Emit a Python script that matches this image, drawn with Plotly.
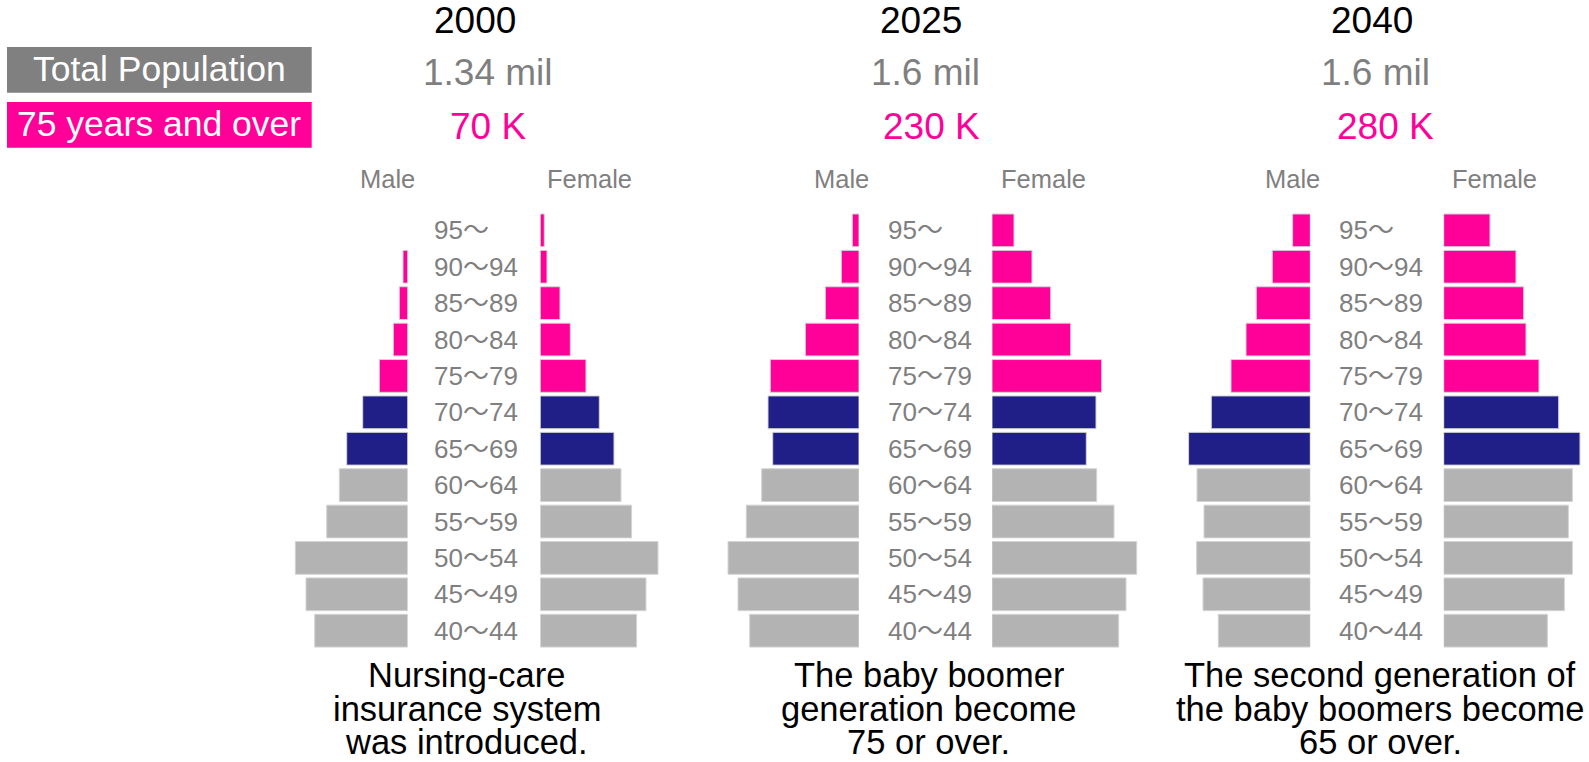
import plotly.graph_objects as go

W, H = 1589, 762

ages = ["95～", "90～94", "85～89", "80～84", "75～79", "70～74", "65～69",
        "60～64", "55～59", "50～54", "45～49", "40～44"]
age_colors = ["#ff0099"] * 5 + ["#1f1f87"] * 2 + ["#b3b3b3"] * 5

years = ["2000", "2025", "2040"]
total_pop = ["1.34 mil", "1.6 mil", "1.6 mil"]
over75 = ["70 K", "230 K", "280 K"]
notes = [
    ["Nursing-care", "insurance system", "was introduced."],
    ["The baby boomer", "generation become", "75 or over."],
    ["The second generation of", "the baby boomers become", "65 or over."],
]

male_2000 = [0, 4.7, 8.4, 14.4, 28.4, 45, 61, 68.4, 81, 112.4, 101.7, 93]
female_2000 = [4, 6.7, 19.7, 30, 45.7, 59, 73.7, 80.7, 91.3, 117.7, 105.7, 96.3]
male_2025 = [6.7, 17.7, 33.7, 53.7, 88.7, 91, 86.3, 97.3, 112.7, 131, 121, 109.3]
female_2025 = [22, 40, 58.7, 78.7, 109.7, 104, 94.3, 104.7, 122, 144.7, 134, 126.7]
male_2040 = [17.7, 38, 54, 64.3, 79.3, 99, 121.7, 113.3, 106.3, 113.7, 107.3, 92]
female_2040 = [46.3, 72.3, 80, 82.3, 95.3, 115, 136.3, 128.7, 124.7, 128.7, 120.7, 103.7]

males = [male_2000, male_2025, male_2040]
females = [female_2000, female_2025, female_2040]

# layout geometry (pixels)
male_right = [407.7, 859.0, 1310.3]
female_left = [540.3, 992.0, 1443.7]
age_label_x = [432, 886, 1337]
year_x = [475, 921.3, 1372]
val_x = [488.3, 925, 1375.7]
k_x = [488.3, 931.7, 1385]
male_lbl_x = [387, 841.8, 1292]
female_lbl_x = [589, 1043.7, 1494]
note_x = [467, 929, 1380]
note_cap_y = [673.8, 707.3, 740.8]
plot_top, plot_bot = 212.15, 648.9

def px(x):
    return x / W

def py(y):
    return 1 - y / H

fig = go.Figure()
layout = dict(
    width=W, height=H, margin=dict(l=0, r=0, t=0, b=0),
    paper_bgcolor="white", plot_bgcolor="white", showlegend=False,
    font=dict(family="Liberation Sans, Arial, Noto Sans CJK JP"),
    bargap=0.1,
)
layout["yaxis"] = dict(domain=[py(plot_bot), py(plot_top)], type="category",
                       categoryorder="array", categoryarray=ages[::-1],
                       range=[-0.5, 11.5], visible=False, fixedrange=True)

def bar_line(vals):
    return dict(color="#d4d4d4", width=[1 if v > 0 else 0 for v in vals])

ax = 1
for i in range(3):
    R = 150
    name = "xaxis" if ax == 1 else f"xaxis{ax}"
    layout[name] = dict(domain=[px(male_right[i] - R), px(male_right[i])],
                        range=[R, 0], visible=False, fixedrange=True, anchor="y")
    fig.add_trace(go.Bar(x=males[i], y=ages, orientation="h",
                         marker=dict(color=age_colors, line=bar_line(males[i])),
                         xaxis="x" if ax == 1 else f"x{ax}", yaxis="y",
                         hoverinfo="x+y"))
    ax += 1
    Rf = min(150, W - female_left[i])
    layout[f"xaxis{ax}"] = dict(domain=[px(female_left[i]), min(1, px(female_left[i] + Rf))],
                                range=[0, Rf], visible=False, fixedrange=True, anchor="y")
    fig.add_trace(go.Bar(x=females[i], y=ages, orientation="h",
                         marker=dict(color=age_colors, line=bar_line(females[i])),
                         xaxis=f"x{ax}", yaxis="y", hoverinfo="x+y"))
    ax += 1

fig.update_layout(**layout)

ann = []
def text(x, y, s, size, color, xanchor="center"):
    ann.append(dict(x=px(x), y=py(y), xref="paper", yref="paper",
                    text=s, showarrow=False, xanchor=xanchor, yanchor="middle",
                    font=dict(size=size, color=color)))

gray_txt = "#7f7f7f"
pink = "#ff0099"
NOTE_FS = 34.5
for i in range(3):
    text(year_x[i], 20.3, years[i], 37, "#000000")
    text(val_x[i], 72, total_pop[i], 37, gray_txt)
    text(k_x[i], 126, over75[i], 37, pink)
    text(male_lbl_x[i], 178.8, "Male", 25.5, gray_txt)
    text(female_lbl_x[i], 178.8, "Female", 25.5, gray_txt)
    for a in ages:
        ann.append(dict(x=px(age_label_x[i]), y=a, xref="paper", yref="y",
                        text=a, showarrow=False, xanchor="left", yanchor="middle",
                        font=dict(size=26, color=gray_txt)))
    for j, line in enumerate(notes[i]):
        top = note_cap_y[j] - 13.8
        ann.append(dict(x=px(note_x[i]), y=py(top), xref="paper", yref="paper",
                        text=line, showarrow=False, xanchor="center", yanchor="top",
                        height=33, valign="bottom", borderpad=0,
                        font=dict(size=NOTE_FS, color="#000000")))

shapes = [
    dict(type="rect", xref="paper", yref="paper", x0=px(7), x1=px(311.7),
         y0=py(92.7), y1=py(47), fillcolor="#808080", line=dict(width=0), layer="below"),
    dict(type="rect", xref="paper", yref="paper", x0=px(7), x1=px(311.7),
         y0=py(147.7), y1=py(102), fillcolor=pink, line=dict(width=0), layer="below"),
]
text(159.3, 69.3, "Total Population", 35.5, "#ffffff")
text(159.3, 124.3, "75 years and over", 35.5, "#ffffff")

fig.update_layout(annotations=ann, shapes=shapes)
fig.write_html("out.html", config={"displayModeBar": False},
               post_script="document.body.style.margin='0';document.body.style.overflow='hidden';")
